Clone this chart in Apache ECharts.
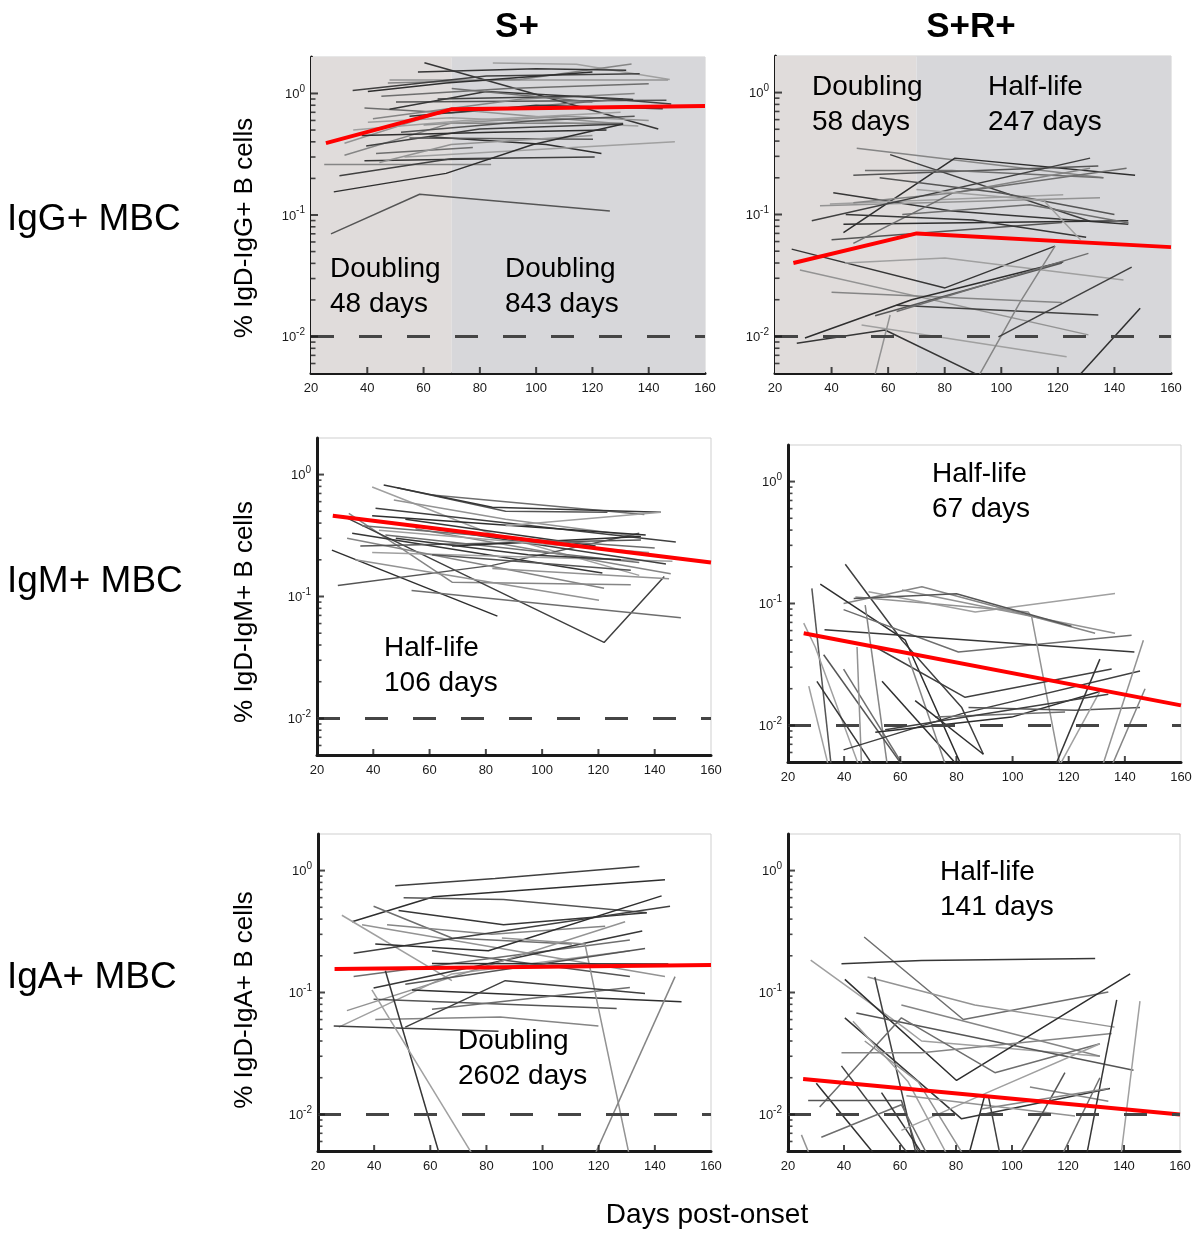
<!DOCTYPE html>
<html>
<head>
<meta charset="utf-8">
<script src="https://cdn.jsdelivr.net/npm/echarts@6/dist/echarts.min.js"></script>
<style>
  html, body { margin: 0; padding: 0; background: #fff; }
  #chart { width: 1200px; height: 1233px; }
</style>
</head>
<body>
<div id="chart"></div>
<script>
// axis values
var dayTicks = [20, 40, 60, 80, 100, 120, 140, 160];
var decadeTicks = [0.01, 0.1, 1];
var detectionLimit = 0.01;
var phaseBreak = 70;

var columnTitles = ['S+', 'S+R+'];
var rowTitles = ['IgG+ MBC', 'IgM+ MBC', 'IgA+ MBC'];
var yTitles = ['% IgD-IgG+ B cells', '% IgD-IgM+ B cells', '% IgD-IgA+ B cells'];
var xTitle = 'Days post-onset';

// IgG+ , S+   (each line = one donor: [day, % of B cells])
var igG_S_lines = [
  [[60.3, 1.79], [143.4, 0.51]],
  [[84.6, 1.78], [114.3, 1.74], [147.5, 1.30]],
  [[47.9, 1.29], [146.9, 1.29]],
  [[47.3, 1.22], [94.1, 1.30], [133.9, 1.75]],
  [[34.8, 1.06], [82.3, 1.39], [136.8, 1.45]],
  [[40.2, 1.04], [68.0, 1.22], [120.0, 1.50]],
  [[50.2, 0.85], [146.3, 0.88]],
  [[39.0, 0.76], [69.8, 0.69], [130.9, 0.90]],
  [[47.9, 0.74], [82.3, 1.04], [134.5, 0.89]],
  [[40.2, 0.58], [69.8, 0.63], [136.3, 0.54]],
  [[31.9, 0.39], [69.8, 0.74], [130.9, 0.56]],
  [[31.9, 0.31], [69.8, 0.57], [130.9, 0.57]],
  [[39.6, 0.37], [79.9, 0.51], [130.9, 0.56]],
  [[62.1, 0.44], [103.6, 0.38], [123.2, 0.32]],
  [[55.0, 0.43], [120.2, 0.42]],
  [[43.1, 0.32], [77.5, 0.36]],
  [[39.0, 0.28], [84.0, 0.29]],
  [[53.2, 0.30], [149.3, 0.40]],
  [[44.3, 0.27], [69.8, 0.38], [120.0, 0.45]],
  [[24.7, 0.26], [84.0, 0.26]],
  [[30.1, 0.21], [69.8, 0.29], [120.8, 0.30]],
  [[28.1, 0.155], [68.0, 0.22], [98.9, 0.38], [130.9, 0.56]],
  [[27.1, 0.070], [58.6, 0.148], [126.2, 0.108]],
  [[45.0, 0.95], [90.0, 1.10], [140.0, 1.20]],
  [[55.0, 0.65], [100.0, 0.80], [145.0, 0.75]],
  [[35.0, 0.50], [75.0, 0.60], [130.0, 0.70]],
  [[60.0, 0.55], [110.0, 0.65], [140.0, 0.60]],
  [[42.0, 0.62], [95.0, 0.90], [135.0, 1.00]],
  [[65.0, 0.90], [115.0, 0.95], [148.0, 0.82]],
  [[38.0, 0.45], [85.0, 0.48], [125.0, 0.50]],
  [[52.0, 0.48], [100.0, 0.60], [135.0, 0.65]],
  [[70.0, 1.10], [120.0, 0.85]],
  [[58.0, 1.50], [100.0, 1.60], [132.0, 1.55]]
];
var igG_S_fit = [[25.3, 0.39], [69.8, 0.74], [160, 0.79]];
var igG_S_notes = ['Doubling\n48 days', 'Doubling\n843 days'];

// IgG+ , S+R+
var igG_SR_lines = [
  [[48.9, 0.35], [136.1, 0.20]],
  [[60.7, 0.31], [131.4, 0.088]],
  [[44.2, 0.071], [83.6, 0.29], [147.3, 0.21]],
  [[47.7, 0.21], [134.3, 0.25]],
  [[51.8, 0.23], [82.5, 0.23], [136.1, 0.20]],
  [[40.6, 0.151], [82.5, 0.107], [144.9, 0.083]],
  [[39.4, 0.122], [121.9, 0.145]],
  [[35.9, 0.118], [134.9, 0.137]],
  [[47.7, 0.125], [83.6, 0.151], [131.4, 0.24]],
  [[33.0, 0.089], [131.4, 0.29]],
  [[44.2, 0.083], [144.9, 0.089]],
  [[40.0, 0.062], [121.4, 0.086]],
  [[47.7, 0.058], [83.1, 0.151], [144.3, 0.24]],
  [[25.9, 0.052], [80.1, 0.025], [119.0, 0.055]],
  [[44.7, 0.040], [80.1, 0.044], [143.2, 0.029]],
  [[28.8, 0.035], [130.8, 0.0103]],
  [[40.0, 0.023], [121.4, 0.019]],
  [[63.0, 0.018], [134.3, 0.015]],
  [[30.6, 0.0097], [68.3, 0.020], [121.9, 0.041]],
  [[55.4, 0.0148], [121.4, 0.040]],
  [[63.0, 0.016], [130.8, 0.048]],
  [[27.7, 0.0088], [58.9, 0.0113], [99.0, 0.004]],
  [[50.6, 0.0124], [123.1, 0.0068]],
  [[55.0, 0.0045], [60.7, 0.015]],
  [[91.5, 0.0045], [106.6, 0.019], [119.0, 0.055]],
  [[99.0, 0.0099], [146.1, 0.037]],
  [[126.5, 0.0045], [149.1, 0.017]],
  [[57.0, 0.20], [100.0, 0.15], [140.0, 0.10]],
  [[65.0, 0.10], [110.0, 0.12], [145.0, 0.085]],
  [[45.0, 0.10], [90.0, 0.09], [130.0, 0.065]],
  [[70.0, 0.16], [115.0, 0.13], [128.0, 0.062]]
];
var igG_SR_fit = [[26.5, 0.040], [70.1, 0.070], [160, 0.054]];
var igG_SR_notes = ['Doubling\n58 days', 'Half-life\n247 days'];

// IgM+ , S+
var igM_S_lines = [
  [[48.5, 0.78], [87.0, 0.50], [123.2, 0.49]],
  [[60.9, 0.68], [136.3, 0.47]],
  [[43.7, 0.82], [82.3, 0.54], [142.2, 0.49]],
  [[39.6, 0.79], [79.9, 0.34], [134.5, 0.149]],
  [[47.3, 0.62], [87.0, 0.43], [134.5, 0.31]],
  [[31.3, 0.48], [68.0, 0.131], [131.5, 0.125]],
  [[28.9, 0.46], [122.0, 0.042], [143.4, 0.146]],
  [[25.3, 0.24], [84.1, 0.069]],
  [[27.4, 0.123], [82.3, 0.18], [134.5, 0.33]],
  [[53.6, 0.112], [149.3, 0.067]],
  [[32.5, 0.33], [121.4, 0.156]],
  [[39.6, 0.23], [146.3, 0.195]],
  [[33.6, 0.20], [120.2, 0.093]],
  [[30.7, 0.30], [122.0, 0.117]],
  [[40.8, 0.53], [147.5, 0.28]],
  [[39.6, 0.46], [136.8, 0.32]],
  [[35.4, 0.26], [135.1, 0.29]],
  [[44.3, 0.32], [134.5, 0.19]],
  [[51.4, 0.43], [119.0, 0.26]],
  [[87.0, 0.38], [142.2, 0.49]],
  [[82.3, 0.17], [145.1, 0.14]],
  [[55.0, 0.36], [145.7, 0.154]],
  [[44.9, 0.41], [144.0, 0.185]],
  [[68.0, 0.26], [135.1, 0.31]],
  [[60.9, 0.22], [131.5, 0.164]],
  [[36.0, 0.38], [90.0, 0.30], [140.0, 0.25]],
  [[48.0, 0.30], [95.0, 0.22], [128.0, 0.20]],
  [[42.0, 0.35], [100.0, 0.27], [138.0, 0.23]]
];
var igM_S_fit = [[25.6, 0.46], [160, 0.19]];
var igM_S_notes = ['Half-life\n106 days'];

// IgM+ , S+R+
var igM_SR_lines = [
  [[48.7, 0.125], [86.7, 0.085], [136.5, 0.121]],
  [[60.6, 0.129], [136.5, 0.057]],
  [[39.8, 0.100], [67.7, 0.137], [129.4, 0.057]],
  [[40.4, 0.21], [60.6, 0.050], [81.9, 0.014], [89.6, 0.0058]],
  [[31.5, 0.144], [61.8, 0.050], [83.1, 0.004]],
  [[28.5, 0.133], [35.7, 0.004]],
  [[39.8, 0.089], [80.7, 0.040], [142.4, 0.055]],
  [[33.0, 0.061], [143.4, 0.040]],
  [[25.6, 0.069], [29.7, 0.044], [46.3, 0.004]],
  [[44.0, 0.113], [105.6, 0.085], [106.8, 0.078], [117.5, 0.004]],
  [[47.5, 0.097], [55.8, 0.004]],
  [[51.1, 0.044], [83.1, 0.017], [135.3, 0.029]],
  [[53.5, 0.023], [83.1, 0.004]],
  [[32.7, 0.038], [62.9, 0.004]],
  [[39.8, 0.029], [62.9, 0.004]],
  [[30.3, 0.023], [52.3, 0.004]],
  [[27.4, 0.021], [35.1, 0.004]],
  [[44.6, 0.044], [46.3, 0.004]],
  [[62.9, 0.036], [77.2, 0.004]],
  [[39.8, 0.0063], [81.9, 0.0125], [145.4, 0.028]],
  [[51.1, 0.0088], [99.7, 0.0117], [131.1, 0.019]],
  [[84.3, 0.014], [122.3, 0.0133], [145.4, 0.014]],
  [[72.4, 0.0117], [118.7, 0.0129]],
  [[114.0, 0.004], [131.1, 0.035]],
  [[115.1, 0.004], [131.1, 0.019]],
  [[131.1, 0.004], [146.6, 0.050]],
  [[134.1, 0.004], [147.2, 0.020]],
  [[54.6, 0.0092], [134.1, 0.018]],
  [[65.3, 0.016], [89.6, 0.0058]],
  [[43.4, 0.110], [80.0, 0.120], [121.0, 0.065]]
];
var igM_SR_fit = [[25.6, 0.057], [160, 0.0146]];
var igM_SR_notes = ['Half-life\n67 days'];

// IgA+ , S+
var igA_S_lines = [
  [[47.5, 0.75], [83.1, 0.86], [134.5, 1.08]],
  [[32.1, 0.38], [61.2, 0.61], [143.6, 0.84]],
  [[50.5, 0.60], [86.1, 0.58], [137.1, 0.45]],
  [[39.8, 0.51], [67.7, 0.28], [110.4, 0.25]],
  [[48.7, 0.47], [86.1, 0.36], [137.1, 0.45]],
  [[28.5, 0.43], [67.7, 0.125]],
  [[35.7, 0.36], [143.6, 0.135]],
  [[44.6, 0.36], [81.9, 0.30], [122.3, 0.35]],
  [[32.7, 0.21], [145.4, 0.51]],
  [[40.4, 0.25], [80.7, 0.22], [142.4, 0.62]],
  [[60.6, 0.22], [131.1, 0.135]],
  [[32.7, 0.135], [131.1, 0.27]],
  [[39.8, 0.109], [135.5, 0.32]],
  [[27.4, 0.052], [67.7, 0.142], [131.1, 0.22]],
  [[30.3, 0.071], [129.4, 0.38]],
  [[40.4, 0.060], [84.9, 0.063], [119.9, 0.053]],
  [[25.6, 0.053], [84.3, 0.048]],
  [[53.5, 0.105], [149.5, 0.084]],
  [[39.8, 0.088], [126.4, 0.074]],
  [[60.6, 0.073], [131.1, 0.110]],
  [[44.0, 0.151], [63.5, 0.0045]],
  [[39.2, 0.105], [75.5, 0.0045]],
  [[85.5, 0.28], [115.1, 0.25], [131.0, 0.0045]],
  [[118.3, 0.0045], [147.2, 0.135]],
  [[51.1, 0.052], [86.7, 0.125], [136.5, 0.098]],
  [[60.6, 0.173], [144.8, 0.171]],
  [[51.1, 0.117], [136.5, 0.23]]
];
var igA_S_fit = [[25.9, 0.156], [160, 0.168]];
var igA_S_notes = ['Doubling\n2602 days'];

// IgA+ , S+R+
var igA_SR_lines = [
  [[47.2, 0.285], [82.6, 0.060], [134.4, 0.101]],
  [[39.1, 0.172], [67.7, 0.183], [129.7, 0.190]],
  [[28.1, 0.184], [61.7, 0.051], [67.7, 0.040], [131.4, 0.030]],
  [[48.4, 0.134], [86.7, 0.079], [136.6, 0.052]],
  [[60.5, 0.079], [131.4, 0.030]],
  [[51.0, 0.134], [66.5, 0.004]],
  [[40.3, 0.128], [80.2, 0.019], [142.2, 0.142]],
  [[44.4, 0.068], [143.4, 0.023]],
  [[31.3, 0.0115], [60.5, 0.062], [93.9, 0.022], [131.4, 0.038]],
  [[40.3, 0.062], [82.0, 0.0092], [135.0, 0.0163]],
  [[43.2, 0.058], [62.9, 0.0185], [78.4, 0.004]],
  [[47.4, 0.040], [66.5, 0.0185], [84.4, 0.004]],
  [[39.1, 0.032], [67.7, 0.032], [135.6, 0.046]],
  [[39.1, 0.025], [65.3, 0.004]],
  [[30.1, 0.018], [53.4, 0.004]],
  [[27.2, 0.013], [60.5, 0.013], [67.7, 0.004]],
  [[31.9, 0.0065], [60.5, 0.012], [71.3, 0.004]],
  [[53.4, 0.0151], [70.1, 0.004]],
  [[60.5, 0.0074], [89.1, 0.0144], [131.4, 0.038]],
  [[62.3, 0.0142], [122.5, 0.0097]],
  [[106.4, 0.0168], [134.4, 0.0128]],
  [[91.5, 0.0144], [96.3, 0.004]],
  [[83.8, 0.004], [90.3, 0.0144]],
  [[101.0, 0.004], [118.9, 0.022]],
  [[116.5, 0.004], [131.4, 0.020]],
  [[126.1, 0.004], [137.4, 0.087]],
  [[138.6, 0.004], [145.7, 0.085]],
  [[24.8, 0.0068], [28.9, 0.004]],
  [[89.1, 0.0111], [134.4, 0.0163]]
];
var igA_SR_fit = [[25.4, 0.0195], [160, 0.010]];
var igA_SR_notes = ['Half-life\n141 days'];

// ---------- layout ----------
var font = "'Liberation Sans', Arial, Helvetica, sans-serif";
var ink = '#1a1a1a';
var grays = ['#363636', '#858585', '#555555', '#a0a0a0', '#404040', '#6e6e6e', '#939393', '#2e2e2e'];

var panels = [
  { lines: igG_S_lines,  fit: igG_S_fit,  notes: igG_S_notes,  shaded: true,  box: [311, 57, 394, 316],  notePos: [[330, 287], [505, 287]] },
  { lines: igG_SR_lines, fit: igG_SR_fit, notes: igG_SR_notes, shaded: true,  box: [775, 56, 396, 317],  notePos: [[812, 105], [988, 105]] },
  { lines: igM_S_lines,  fit: igM_S_fit,  notes: igM_S_notes,  shaded: false, box: [317, 438, 394, 317], notePos: [[384, 666]] },
  { lines: igM_SR_lines, fit: igM_SR_fit, notes: igM_SR_notes, shaded: false, box: [788, 445, 393, 317], notePos: [[932, 492]] },
  { lines: igA_S_lines,  fit: igA_S_fit,  notes: igA_S_notes,  shaded: false, box: [318, 834, 393, 317], notePos: [[458, 1059]] },
  { lines: igA_SR_lines, fit: igA_SR_fit, notes: igA_SR_notes, shaded: false, box: [788, 834, 392, 317], notePos: [[940, 890]] }
];

// log10 scale shown on a value axis
var yMin = -2.3, yMax = 0.3;
var majorLog = decadeTicks.map(function (v) { return Math.round(Math.log10(v)); });
var minorLog = [];
for (var e = -3; e <= 0; e++) {
  for (var k = 2; k <= 9; k++) {
    var t = e + Math.log10(k);
    if (t > yMin && t < yMax) minorLog.push(t);
  }
}

function toLog(p) { return [p[0], Math.log10(p[1])]; }

function text(x, y, s, size, extra) {
  var el = {
    type: 'text', x: x, y: y, silent: true, z: 100,
    style: {
      text: s, fontSize: size, fontFamily: font, fill: '#000',
      align: 'left', verticalAlign: 'middle', textAlign: 'left', textVerticalAlign: 'middle'
    }
  };
  if (extra) {
    for (var key in extra.style || {}) el.style[key] = extra.style[key];
    if (extra.rotation) el.rotation = extra.rotation;
  }
  return el;
}

// inward tick marks, drawn as tiny rects on the axes
function tickSeries(i, data, size, offset) {
  return {
    type: 'scatter', xAxisIndex: i, yAxisIndex: i, data: data,
    symbol: 'rect', symbolSize: size, symbolOffset: offset,
    itemStyle: { color: ink }, silent: true, clip: false, z: 6
  };
}

var option = {
  animation: false,
  backgroundColor: '#ffffff',
  grid: [], xAxis: [], yAxis: [], series: [], graphic: []
};

panels.forEach(function (p, i) {
  var x0 = dayTicks[0], x1 = dayTicks[dayTicks.length - 1];
  option.grid.push({
    left: p.box[0], top: p.box[1], width: p.box[2], height: p.box[3],
    show: true, borderColor: '#cfcfcf', borderWidth: 1, backgroundColor: 'transparent'
  });
  option.xAxis.push({
    type: 'value', gridIndex: i, min: x0, max: x1, interval: 20,
    splitLine: { show: false },
    axisLine: { onZero: false, lineStyle: { color: ink, width: 3 } },
    axisTick: { show: false },
    axisLabel: { customValues: dayTicks, color: ink, fontSize: 13, fontFamily: font, margin: 9 }
  });
  option.yAxis.push({
    type: 'value', gridIndex: i, position: 'left', min: yMin, max: yMax,
    splitLine: { show: false },
    axisLine: { onZero: false, lineStyle: { color: ink, width: 3 } },
    axisTick: { show: false },
    axisLabel: {
      customValues: majorLog, margin: 6,
      formatter: function (v) { return '{b|10}{s|' + Math.round(v) + '}'; },
      rich: {
        b: { fontSize: 13, fontFamily: font, color: ink, lineHeight: 15, verticalAlign: 'bottom' },
        s: { fontSize: 10, fontFamily: font, color: ink, lineHeight: 10, verticalAlign: 'bottom', padding: [0, 0, 7, 0] }
      }
    }
  });

  // background phases + detection limit
  var host = {
    type: 'line', xAxisIndex: i, yAxisIndex: i, data: [], silent: true, z: 1,
    markLine: {
      silent: true, symbol: ['none', 'none'], label: { show: false },
      lineStyle: { color: '#454545', width: 3.2, type: [23, 25] },
      data: [{ yAxis: Math.log10(detectionLimit) }]
    }
  };
  if (p.shaded) {
    host.markArea = {
      silent: true,
      data: [
        [{ xAxis: x0, itemStyle: { color: '#e0dcdb', opacity: 1 } }, { xAxis: phaseBreak }],
        [{ xAxis: phaseBreak, itemStyle: { color: '#d7d7da', opacity: 1 } }, { xAxis: x1 }]
      ]
    };
  }
  option.series.push(host);

  p.lines.forEach(function (line, n) {
    option.series.push({
      type: 'line', xAxisIndex: i, yAxisIndex: i, data: line.map(toLog),
      symbol: 'none', silent: true, z: 2,
      lineStyle: { color: grays[(n * 3 + i) % grays.length], width: 1.5 }
    });
  });

  option.series.push({
    type: 'line', xAxisIndex: i, yAxisIndex: i, data: p.fit.map(toLog),
    symbol: 'none', silent: true, z: 4,
    lineStyle: { color: '#ff0000', width: 4 }
  });

  // ticks: y major / minor on the left axis, x major on the bottom axis
  option.series.push(tickSeries(i, majorLog.map(function (v) { return [x0, v]; }), [7, 2], [3.5, 0]));
  option.series.push(tickSeries(i, minorLog.map(function (v) { return [x0, v]; }), [4.5, 1.6], [2.25, 0]));
  option.series.push(tickSeries(i, dayTicks.slice(1, -1).map(function (d) { return [d, yMin]; }), [2, 6], [0, -3]));

  p.notes.forEach(function (s, n) {
    option.graphic.push(text(p.notePos[n][0], p.notePos[n][1], s, 28, { style: { lineHeight: 35 } }));
  });
});

// titles
option.graphic.push(text(517, 27, columnTitles[0], 35, { style: { fontWeight: 'bold', align: 'center', textAlign: 'center' } }));
option.graphic.push(text(971, 27, columnTitles[1], 35, { style: { fontWeight: 'bold', align: 'center', textAlign: 'center' } }));
var rowY = [220, 582, 978];
rowTitles.forEach(function (s, r) {
  option.graphic.push(text(7, rowY[r], s, 37));
});
var yTitleY = [228, 612, 1000];
yTitles.forEach(function (s, r) {
  option.graphic.push(text(245, yTitleY[r], s, 26, {
    rotation: Math.PI / 2,
    style: { align: 'center', textAlign: 'center' }
  }));
});
option.graphic.push(text(707, 1215, xTitle, 28, { style: { align: 'center', textAlign: 'center' } }));

var chart = echarts.init(document.getElementById('chart'));
chart.setOption(option);
</script>
</body>
</html>
